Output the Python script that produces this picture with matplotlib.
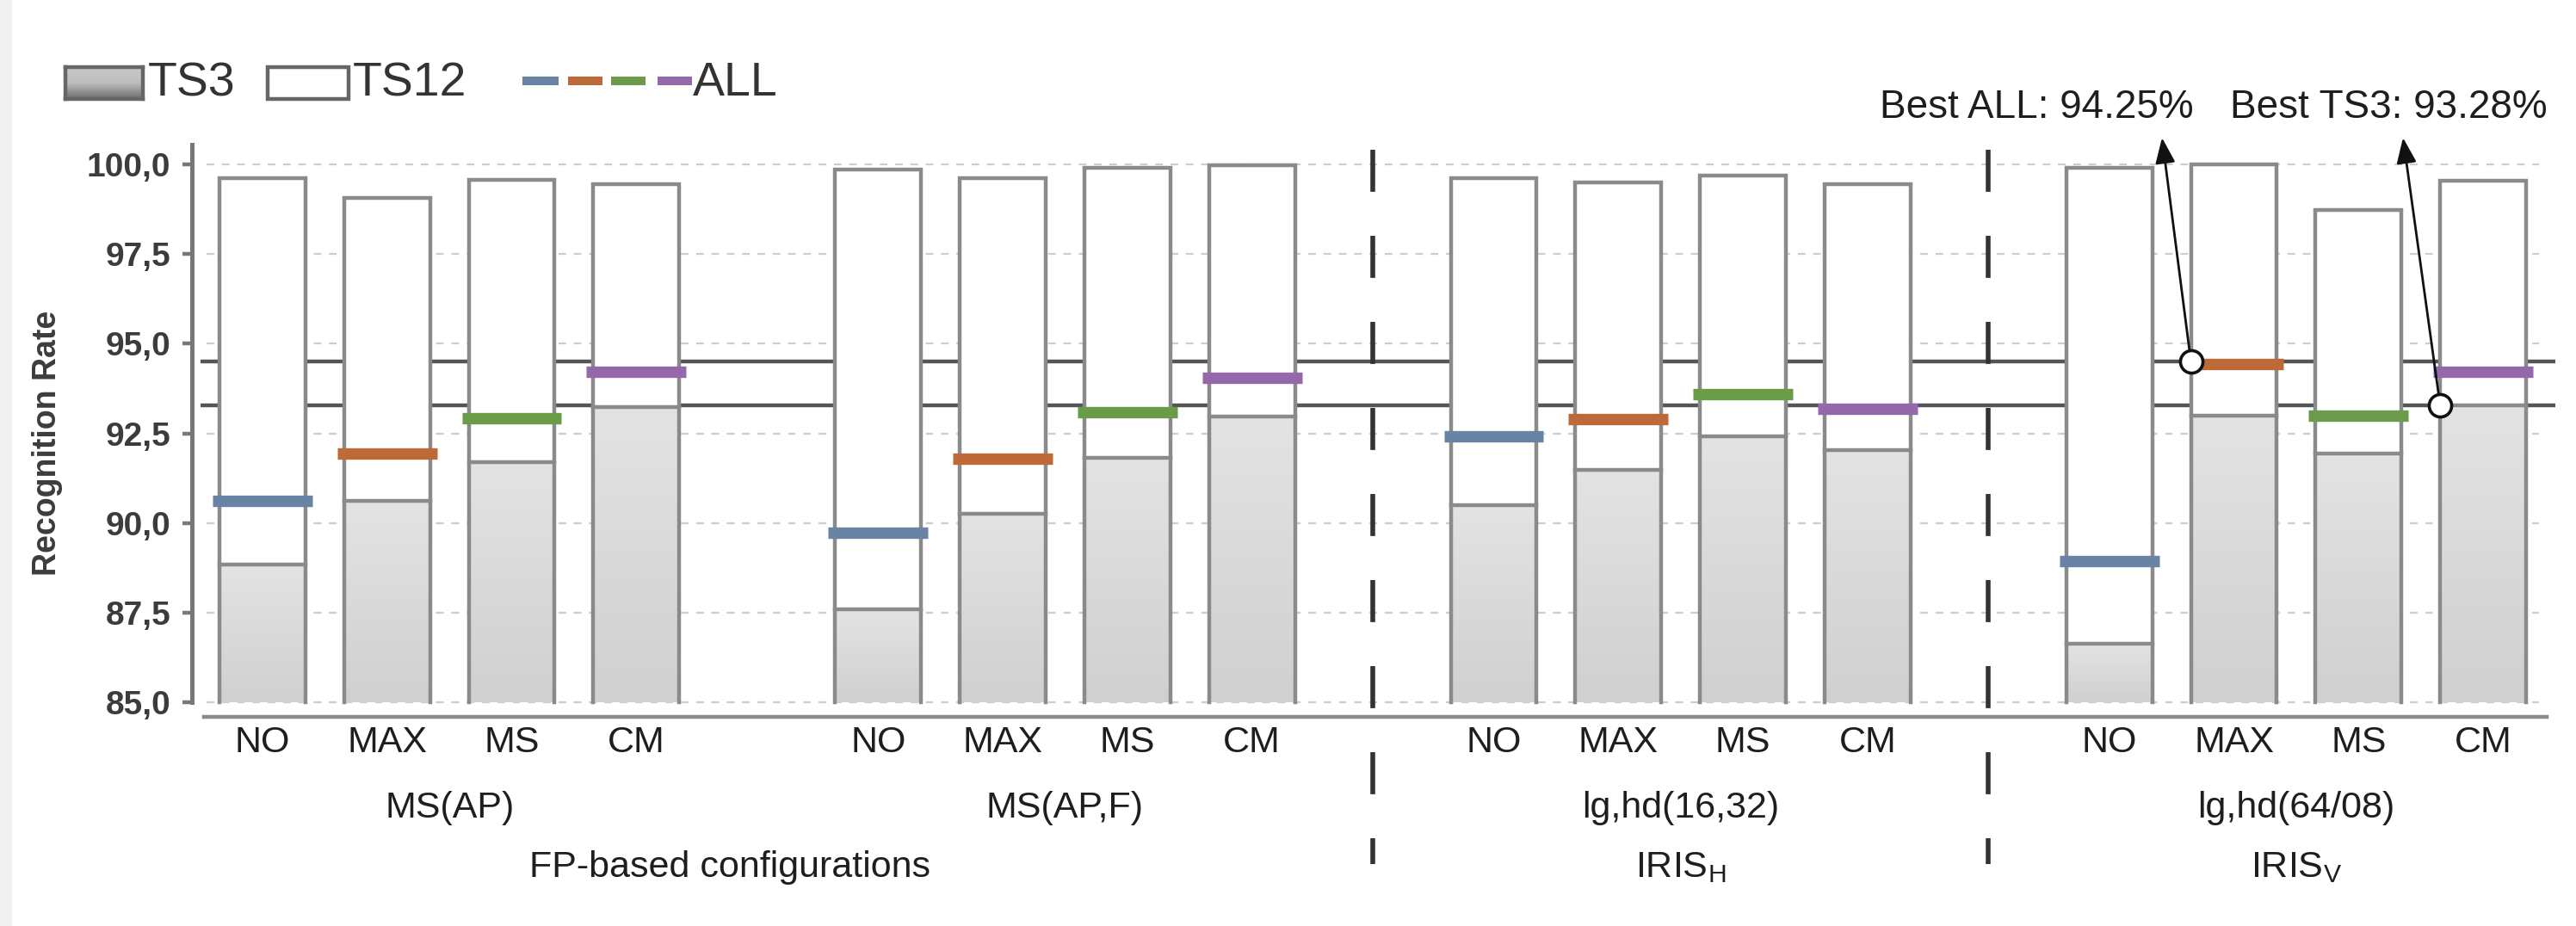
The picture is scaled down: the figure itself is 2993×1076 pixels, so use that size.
import numpy as np
import matplotlib
matplotlib.use("Agg")
import matplotlib.pyplot as plt
from matplotlib.colors import LinearSegmentedColormap
from matplotlib.patches import Rectangle

# ---------------- data ----------------
methods = ["NO", "MAX", "MS", "CM"]
configs = ["MS(AP)", "MS(AP,F)", "lg,hd(16,32)", "lg,hd(64/08)"]
family_labels = ["FP-based configurations", r"IRIS$_\mathregular{H}$", r"IRIS$_\mathregular{V}$"]

ts12 = [[99.62, 99.06, 99.57, 99.46],
        [99.86, 99.61, 99.91, 99.97],
        [99.62, 99.49, 99.68, 99.46],
        [99.91, 100.00, 98.74, 99.54]]
ts3 = [[88.85, 90.61, 91.71, 93.24],
       [87.59, 90.27, 91.82, 92.97],
       [90.49, 91.48, 92.41, 92.04],
       [86.63, 93.00, 91.93, 93.28]]
all_rate = [[90.61, 91.93, 92.93, 94.22],
            [89.73, 91.79, 93.08, 94.05],
            [92.42, 92.89, 93.59, 93.19],
            [88.93, 94.44, 93.00, 94.23]]
best_all_line = 94.50
best_ts3_line = 93.28
best_all_text = "Best ALL: 94.25%"
best_ts3_text = "Best TS3: 93.28%"
y_ticks = [85.0, 87.5, 90.0, 92.5, 95.0, 97.5, 100.0]

# ---------------- style ----------------
W, H, DPI = 2993, 1076, 200
FONT = "Liberation Sans"
plt.rcParams["font.family"] = [FONT, "DejaVu Sans"]
plt.rcParams["mathtext.fontset"] = "custom"
plt.rcParams["mathtext.rm"] = FONT

method_colors = ["#6883A3", "#BE6A38", "#6A9B49", "#9567AB"]
edge_c = "#8a8a8a"
txt_c = "#1e1e1e"
tick_c = "#3c3c3c"

group_step = 4.94
bar_w = 0.69
line_w = 0.80
ybase = 85.0

fig = plt.figure(figsize=(W / DPI, H / DPI), dpi=DPI)
fig.patch.set_facecolor("white")

def fx(px):
    return px / W

def fy(py):  # py measured from top
    return 1 - py / H

ax_left, ax_right = 223, 2972
ax_top, ax_bot = 166, 833
ax = fig.add_axes([fx(ax_left), fy(ax_bot), fx(ax_right - ax_left), (ax_bot - ax_top) / H])
ax.set_facecolor("none")

xlim = (-0.566, 18.42)
ylim = (84.6, 100.6)

# grid lines
ax.hlines(y_ticks, -0.45, 18.27, colors="#cdcdcd", lw=0.8,
          linestyles=(0, (4, 4)), zorder=0)
# best lines
ax.hlines([best_all_line, best_ts3_line], -0.50, 18.40, colors="#555555", lw=1.6, zorder=1)

grad = np.linspace(0, 1, 256).reshape(-1, 1)
cmap_ts3 = LinearSegmentedColormap.from_list("ts3", ["#d0d0d0", "#e3e3e3"])

for g in range(4):
    for j in range(4):
        x = g * group_step + j
        x0, x1 = x - bar_w / 2, x + bar_w / 2
        top12 = ts12[g][j]
        top3 = ts3[g][j]
        # TS12 white bar
        ax.bar(x, top12 - ybase, bottom=ybase, width=bar_w, color="white",
               edgecolor="none", zorder=2)
        # TS3 gradient bar
        ax.imshow(grad, extent=[x0, x1, ybase, top3], origin="lower",
                  cmap=cmap_ts3, aspect="auto", zorder=3, interpolation="bilinear")
        # outlines
        ax.plot([x0, x0, x1, x1], [ybase, top12, top12, ybase], color=edge_c,
                lw=1.6, zorder=3.5, solid_joinstyle="miter")
        ax.plot([x0, x1], [top3, top3], color=edge_c, lw=1.6, zorder=3.5)
        # ALL line
        ax.hlines(all_rate[g][j], x - line_w / 2, x + line_w / 2,
                  colors=method_colors[j], lw=4.8, zorder=4, capstyle="butt")

ax.set_xlim(*xlim)
ax.set_ylim(*ylim)

# spines
for s in ["top", "right"]:
    ax.spines[s].set_visible(False)
ax.spines["left"].set_color("#777777")
ax.spines["left"].set_linewidth(1.8)
ax.spines["left"].set_bounds(ybase, 100.55)
ax.spines["bottom"].set_color("#8a8a8a")
ax.spines["bottom"].set_linewidth(1.6)
ax.spines["bottom"].set_bounds(-0.47, 18.33)

ax.set_yticks(y_ticks)
ax.set_yticklabels([f"{v:.1f}".replace(".", ",") for v in y_ticks],
                   fontsize=14, fontweight="bold", color=tick_c)
ax.tick_params(axis="y", length=4, width=1.6, color="#777777", pad=5)
ax.set_xticks([])
ax.set_ylabel("Recognition Rate", fontsize=13.5, fontweight="bold", color=tick_c)
ax.yaxis.set_label_coords((73 - ax_left) / (ax_right - ax_left),
                          (ax_bot - 515) / (ax_bot - ax_top))

# x labels
trans = ax.get_xaxis_transform()
yl_method = (ax_bot - 863) / (ax_bot - ax_top)
yl_conf = (ax_bot - 939) / (ax_bot - ax_top)
yl_fam = (ax_bot - 1008) / (ax_bot - ax_top)
for g in range(4):
    for j in range(4):
        ax.text(g * group_step + j, yl_method, methods[j], transform=trans,
                ha="center", va="center", fontsize=15.5, color=txt_c, clip_on=False)
    ax.text(g * group_step + 1.5, yl_conf, configs[g], transform=trans,
            ha="center", va="center", fontsize=15.5, color=txt_c, clip_on=False)
fam_x = [3.75, 2 * group_step + 1.5, 3 * group_step + 1.5]
for xx, lab in zip(fam_x, family_labels):
    ax.text(xx, yl_fam, lab, transform=trans, ha="center", va="center",
            fontsize=15.5, color=txt_c, clip_on=False)

# dashed dividers
for g in (2, 3):
    xd = (g * group_step + (g - 1) * group_step + 3) / 2
    ax.plot([xd, xd], [100.41, 80.49], color="#333333", lw=2.0,
            linestyle=(0, (8.8, 9.2)), clip_on=False, zorder=1)

# annotations (best markers)
g4 = 3 * group_step
c1 = (g4 + 1 - bar_w / 2, best_all_line)
c2 = (g4 + 3 - bar_w / 2, best_ts3_line)
tip1 = (2512, H - 160)
tip2 = (2792, H - 160)
for c, tip in ((c1, tip1), (c2, tip2)):
    ax.annotate("", xy=tip, xycoords="figure pixels", xytext=c, textcoords="data",
                arrowprops=dict(arrowstyle="-|>,head_length=0.9,head_width=0.35",
                                color="#111111", lw=1.0, shrinkA=5, shrinkB=0),
                annotation_clip=False, zorder=6)
    ax.plot(*c, marker="o", ms=9.4, mfc="white", mec="#111111", mew=1.3,
            zorder=7, clip_on=False)

fig.text(fx(2184), fy(125), best_all_text, ha="left", va="center", fontsize=16.5, color=txt_c)
fig.text(fx(2591), fy(125), best_ts3_text, ha="left", va="center", fontsize=16.5, color=txt_c)

# legend
lg_y0, lg_y1 = 78, 115
lax = fig.add_axes([fx(76), fy(lg_y1), fx(90), (lg_y1 - lg_y0) / H])
cmap_leg = LinearSegmentedColormap.from_list("leg", ["#6c6c6c", "#bdbdbd", "#c9c9c9"])
lax.imshow(grad, cmap=cmap_leg, aspect="auto", origin="lower", extent=[0, 1, 0, 1])
lax.set_xticks([]); lax.set_yticks([])
for s in lax.spines.values():
    s.set_color("#666666"); s.set_linewidth(1.6)
fig.text(fx(172), fy(97), "TS3", ha="left", va="center", fontsize=20, color="#333333")
fig.patches.append(Rectangle((fx(311), fy(lg_y1)), fx(94), (lg_y1 - lg_y0) / H,
                             transform=fig.transFigure, facecolor="white",
                             edgecolor="#666666", lw=1.6))
fig.text(fx(410), fy(97), "TS12", ha="left", va="center", fontsize=20, color="#333333")
for k, (a, b) in enumerate([(607, 649), (660, 700), (710, 750), (764, 804)]):
    fig.add_artist(plt.Line2D([fx(a), fx(b)], [fy(94), fy(94)], color=method_colors[k],
                              lw=3.6, solid_capstyle="butt"))
fig.text(fx(805), fy(97), "ALL", ha="left", va="center", fontsize=20, color="#333333")

# screenshot-like left strip
fig.patches.append(Rectangle((0, 0), fx(14), 1, transform=fig.transFigure,
                             facecolor="#f0f0f3", edgecolor="none"))

fig.savefig("out.png", dpi=DPI)
